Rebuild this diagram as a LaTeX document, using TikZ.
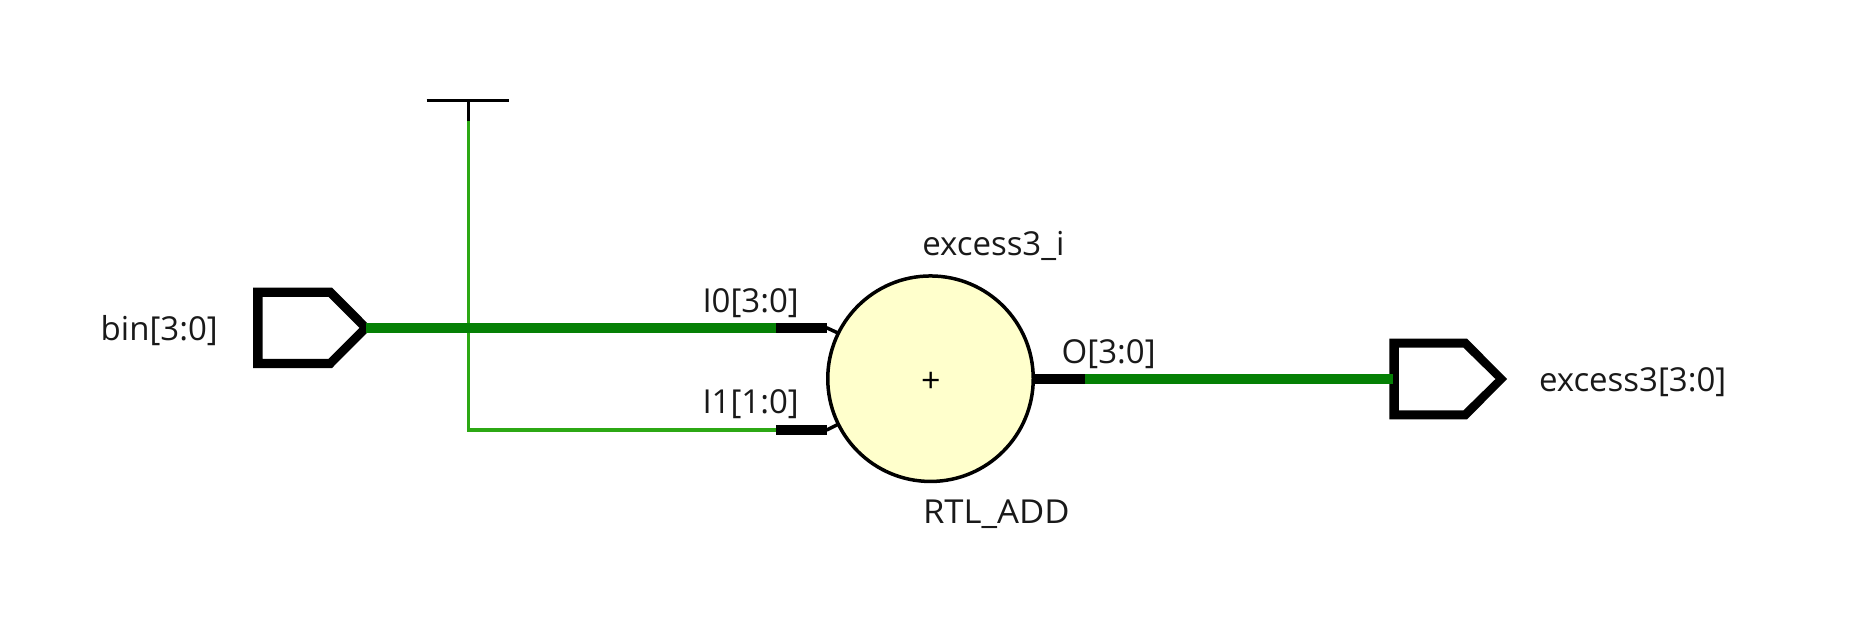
\documentclass[tikz,border=0pt]{standalone}
\usepackage{fontspec}
\setmainfont{Open Sans}
\definecolor{busgreen}{HTML}{058005}
\definecolor{wiregreen}{HTML}{2CA814}
\definecolor{opfill}{HTML}{FFFFCC}
\tikzset{
  lbl/.style={inner sep=0pt,outer sep=0pt,anchor=base west,font=\fontsize{33}{33}\selectfont,text=black!90},
  bus/.style={line width=9.5pt,busgreen},
  wire/.style={line width=3.5pt,wiregreen},
  pinbus/.style={line width=9.5pt,black},
  pinwire/.style={line width=3.5pt,black},
  port/.style={fill=black,even odd rule,draw=none},
  opcircle/.style={circle,draw=black,line width=3.5pt,fill=opfill,minimum size=205.5pt,inner sep=0pt,outer sep=0pt},
}
\begin{document}
\begin{tikzpicture}[x=1pt,y=-1pt]
\useasboundingbox (0,0) rectangle (1850,632);
% ports
\fill[port] (253,287.6) -- (332,287.6) -- (372,327.8) -- (332,368) -- (253,368) -- cycle
  (262.5,296.8) -- (328.5,296.8) -- (359.5,327.8) -- (328.5,358.8) -- (262.5,358.8) -- cycle;
\fill[port] (1389.3,338.6) -- (1467,338.6) -- (1507,379) -- (1467,419.4) -- (1389.3,419.4) -- cycle
  (1398.8,347.7) -- (1463.5,347.7) -- (1495.5,379) -- (1463.5,410.3) -- (1398.8,410.3) -- cycle;
% named points
\coordinate (binout) at (365.5,327.8);
\coordinate (i0a) at (776,327.8);
\coordinate (i0b) at (826.7,327.8);
\coordinate (i1a) at (776,430);
\coordinate (i1b) at (826.7,430);
\coordinate (i0c) at (838,333);
\coordinate (i1c) at (838,424.4);
\coordinate (oa) at (1033,379);
\coordinate (ob) at (1085,379);
\coordinate (excin) at (1393,379);
\coordinate (tbarl) at (426.7,100.3);
\coordinate (tbarr) at (509,100.3);
\coordinate (ttop) at (468.3,100.3);
\coordinate (tstem) at (468.3,120.7);
\coordinate (tcorner) at (468.3,430);
% wires
\draw[wire] (tstem) -- (tcorner) -- (i1a);
\draw[bus] (binout) -- (i0a);
\draw[bus] (ob) -- (excin);
\draw[pinbus] (i0a) -- (i0b);
\draw[pinbus] (i1a) -- (i1b);
\draw[pinwire] (i0b) -- (i0c);
\draw[pinwire] (i1b) -- (i1c);
\draw[pinbus] (oa) -- (ob);
\draw[pinwire] (tbarl) -- (tbarr);
\draw[pinwire] (ttop) -- (tstem);
% operator
\node[opcircle] (add) at (930.5,378.7) {};
\node[inner sep=0pt,anchor=center,font=\fontsize{34}{34}\selectfont] (plus) at (930.9,382.5) {+};
% labels
\node[lbl] (binlbl) at (100.7,340) {bin[3:0]};
\node[lbl] (i0lbl) at (702.5,312.2) {I0[3:0]};
\node[lbl] (i1lbl) at (702.5,413.8) {I1[1:0]};
\node[lbl] (instlbl) at (922.3,255) {excess3\_i};
\node[lbl,xscale=1.05] (typelbl) at (923,523.5) {RTL\_ADD};
\node[lbl] (olbl) at (1061.7,363.2) {O[3:0]};
\node[lbl] (exclbl) at (1539,391) {excess3[3:0]};
\end{tikzpicture}
\end{document}
